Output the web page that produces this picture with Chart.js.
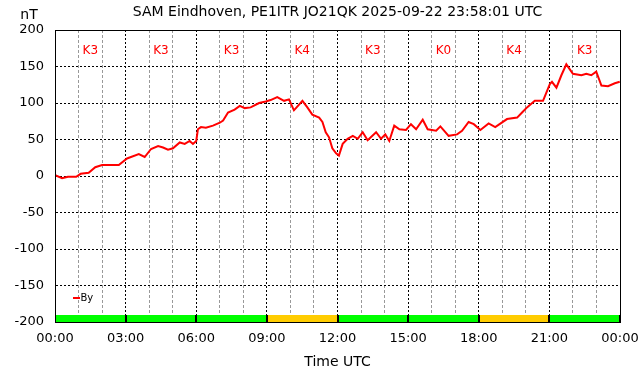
<!DOCTYPE html>
<html>
<head>
<meta charset="utf-8">
<script src="https://cdn.jsdelivr.net/npm/chart.js@4.4.0/dist/chart.umd.min.js"></script>
<style>
  html, body { margin: 0; padding: 0; background: #fff; }
</style>
</head>
<body>
<canvas id="magChart" width="642" height="376"></canvas>
<script>
// #### DATA ####
let chartTitle = 'SAM Eindhoven, PE1ITR JO21QK 2025-09-22 23:58:01 UTC';

// time of day in hours (UTC)
let byHours = [
    0.01, 0.30, 0.55, 0.90, 1.09, 1.43, 1.71, 2.00, 2.71, 3.06,
    3.56, 3.81, 4.08, 4.38, 4.59, 4.80, 5.01, 5.30, 5.51, 5.72,
    5.86, 6.00, 6.07, 6.20, 6.41, 6.71, 7.00, 7.14, 7.35, 7.63,
    7.85, 8.06, 8.31, 8.67, 8.95, 9.16, 9.44, 9.73, 9.94, 10.15,
    10.32, 10.51, 10.72, 10.93, 11.22, 11.36, 11.50, 11.64, 11.78, 11.94,
    12.06, 12.22, 12.43, 12.65, 12.86, 13.07, 13.28, 13.64, 13.85, 14.03,
    14.20, 14.41, 14.63, 14.91, 15.12, 15.34, 15.62, 15.83, 16.19, 16.37,
    16.72, 17.08, 17.29, 17.57, 17.79, 18.07, 18.42, 18.70, 19.20, 19.63,
    19.84, 20.05, 20.38, 20.73, 21.02, 21.11, 21.30, 21.51, 21.72, 22.00,
    22.36, 22.57, 22.78, 22.99, 23.21, 23.49, 23.78, 23.99
];
// By component in nT
let byValues = [
    1, -3, -1, -1, 3, 4.5, 12, 15, 15, 24,
    30, 26, 37, 41, 39, 36, 38, 46, 44, 48,
    44, 48, 64, 67, 66, 69, 73, 76, 87, 91,
    96, 93, 94, 100, 102, 104, 108, 103, 105, 90,
    96, 103, 94, 84, 80, 74, 60, 53, 38, 31,
    28, 44, 51, 55, 51, 60, 49, 60, 51, 57,
    48, 69, 64, 63, 71, 64, 77, 64, 62, 68,
    55, 57, 62, 74, 71, 63, 72, 67, 78, 80,
    87, 94, 103, 103, 126, 129, 121, 138, 153, 140,
    138, 140, 138, 143, 124, 123, 127, 129
];

// K index per 3 hour block
let kIndex = [3, 3, 3, 4, 3, 0, 4, 3];

let yTickMin = -200;
let yTickMax = 200;
let yTickStep = 50;
let xHourMax = 24;

// #### HELPERS ####
let hourLabel = (h) => String(h % 24).padStart(2, '0') + ':00';
let kColor = (k) => k >= 4 ? '#ffcc00' : '#00ff00';

Chart.defaults.font.family = "'DejaVu Sans', sans-serif";
Chart.defaults.color = '#000';

let byPoints = byHours.map((h, i) => ({x: h, y: byValues[i]}));

// K index strip along the bottom of the plot
let kStripPlugin = {
    id: 'kStrip',
    beforeDatasetsDraw(chart) {
        let ctx = chart.ctx;
        let xScale = chart.scales.x;
        let yScale = chart.scales.y;
        let top = Math.round(yScale.getPixelForValue(yTickMin + 10));
        let bottom = Math.round(yScale.getPixelForValue(yTickMin));
        ctx.save();
        kIndex.forEach((k, i) => {
            let left = Math.round(xScale.getPixelForValue(i * 3));
            let right = Math.round(xScale.getPixelForValue(i * 3 + 3));
            ctx.fillStyle = kColor(k);
            ctx.fillRect(left, top, right - left, bottom - top);
            ctx.fillStyle = '#000';
            ctx.fillRect(left, top, 1, bottom - top);
            ctx.fillRect(right - 1, top, 1, bottom - top);
        });
        ctx.restore();
    }
};

// title, unit, K labels, legend and frame
let overlayPlugin = {
    id: 'overlay',
    afterDraw(chart) {
        let ctx = chart.ctx;
        let area = chart.chartArea;
        let xScale = chart.scales.x;
        ctx.save();

        ctx.fillStyle = '#000';
        ctx.textAlign = 'center';
        ctx.textBaseline = 'middle';
        ctx.font = "14px 'DejaVu Sans'";
        ctx.fillText(chartTitle, (area.left + area.right) / 2, 12);
        ctx.fillText('nT', 29, 15);

        ctx.fillStyle = '#ff0000';
        ctx.font = "12px 'DejaVu Sans'";
        kIndex.forEach((k, i) => {
            ctx.fillText('K' + k, xScale.getPixelForValue(i * 3 + 1.5), area.top + 21);
        });

        // legend
        ctx.strokeStyle = '#ff0000';
        ctx.lineWidth = 2;
        ctx.beginPath();
        ctx.moveTo(area.left + 18, area.bottom - 24);
        ctx.lineTo(area.left + 25, area.bottom - 24);
        ctx.stroke();
        ctx.fillStyle = '#000';
        ctx.textAlign = 'left';
        ctx.font = "10px 'DejaVu Sans'";
        ctx.fillText('By', area.left + 25.5, area.bottom - 24);

        ctx.strokeStyle = '#000';
        ctx.lineWidth = 1;
        ctx.strokeRect(Math.round(area.left) + 0.5, Math.round(area.top) + 0.5,
            Math.round(area.right - area.left), Math.round(area.bottom - area.top));
        ctx.restore();
    }
};

let magChart = new Chart(document.getElementById('magChart').getContext('2d'), {
    type: 'line',
    data: {
        datasets: [
            {
                label: 'By',
                data: byPoints,
                borderColor: '#ff0000',
                borderWidth: 2,
                pointRadius: 0,
                tension: 0,
                fill: false
            }
        ]
    },
    options: {
        responsive: false,
        animation: false,
        devicePixelRatio: 1,
        layout: {padding: {left: 0, right: 22, top: 30, bottom: 0}},
        plugins: {
            legend: {display: false},
            title: {display: false},
            tooltip: {enabled: false}
        },
        scales: {
            x: {
                type: 'linear',
                min: 0,
                max: xHourMax,
                offset: false,
                afterFit: (scale) => {
                    scale.height = 54;
                    scale.paddingLeft = 0;
                    scale.paddingRight = 0;
                },
                ticks: {
                    stepSize: 1,
                    autoSkip: false,
                    maxRotation: 0,
                    padding: 9,
                    font: {size: 13},
                    callback: (v) => v % 3 === 0 ? hourLabel(v) : ''
                },
                grid: {
                    drawTicks: false,
                    color: (c) => c.tick && c.tick.value % 3 === 0 ? '#000' : '#999',
                    lineWidth: 1
                },
                border: {
                    display: true,
                    color: '#000',
                    dash: (c) => c.tick && c.tick.value % 3 === 0 ? [2, 2] : [3, 2]
                },
                title: {
                    display: true,
                    text: 'Time UTC',
                    font: {size: 14},
                    padding: {top: 0, bottom: 5}
                }
            },
            y: {
                min: yTickMin,
                max: yTickMax,
                afterFit: (scale) => { scale.width = 55; },
                ticks: {
                    stepSize: yTickStep,
                    padding: 11,
                    font: {size: 13}
                },
                grid: {
                    drawTicks: false,
                    color: '#000',
                    lineWidth: 1
                },
                border: {
                    display: true,
                    color: '#000',
                    dash: [2, 2]
                }
            }
        }
    },
    plugins: [kStripPlugin, overlayPlugin]
});
</script>
</body>
</html>
